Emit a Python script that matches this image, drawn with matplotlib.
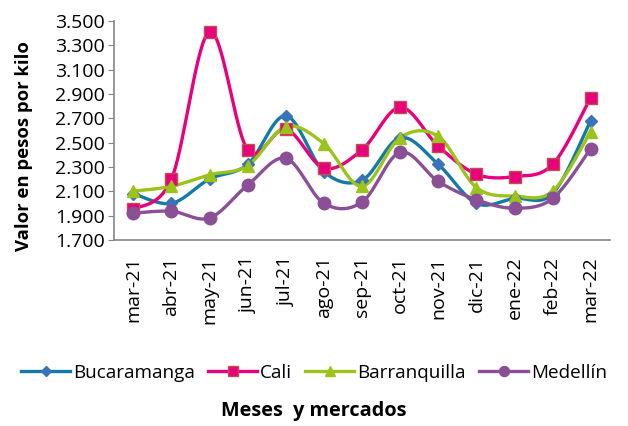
import numpy as np
import matplotlib
matplotlib.use("Agg")
import matplotlib.pyplot as plt
from matplotlib.ticker import FuncFormatter

plt.rcParams['font.family'] = ['Open Sans', 'DejaVu Sans']

# data
meses = ["mar-21", "abr-21", "may-21", "jun-21", "jul-21", "ago-21", "sep-21",
         "oct-21", "nov-21", "dic-21", "ene-22", "feb-22", "mar-22"]
bucaramanga = [2080, 2000, 2200, 2320, 2720, 2260, 2190, 2540, 2320, 2000, 2040, 2080, 2680]
cali = [1950, 2200, 3410, 2440, 2610, 2290, 2440, 2790, 2470, 2240, 2220, 2320, 2870]
barranquilla = [2100, 2140, 2235, 2310, 2630, 2490, 2140, 2540, 2550, 2130, 2060, 2100, 2590]
medellin = [1920, 1935, 1880, 2150, 2370, 2000, 2010, 2420, 2180, 2030, 1960, 2040, 2450]


def smooth(xs, ys, n=20):
    # catmull-rom style curve like excel's smoothed line
    xs = np.asarray(xs, float)
    ys = np.asarray(ys, float)
    px = np.concatenate([[xs[0]], xs, [xs[-1]]])
    py = np.concatenate([[ys[0]], ys, [ys[-1]]])
    outx, outy = [], []
    for i in range(1, len(px) - 2):
        p0 = np.array([px[i - 1], py[i - 1]])
        p1 = np.array([px[i], py[i]])
        p2 = np.array([px[i + 1], py[i + 1]])
        p3 = np.array([px[i + 2], py[i + 2]])
        c1 = p1 + (p2 - p0) / 6
        c2 = p2 - (p3 - p1) / 6
        t = np.linspace(0, 1, n)[:, None]
        pts = ((1 - t) ** 3) * p1 + 3 * ((1 - t) ** 2) * t * c1 + 3 * (1 - t) * t ** 2 * c2 + t ** 3 * p2
        outx.extend(pts[:, 0])
        outy.extend(pts[:, 1])
    return outx, outy


fig = plt.figure(figsize=(6.28, 4.26), dpi=100)
ax = fig.add_axes([0.182, 0.437, 0.789, 0.514])

x = np.arange(len(meses))
series = [
    ("Bucaramanga", bucaramanga, "#127AA6", "D", "#3A74B8", "#3A74B8", 6.5),
    ("Cali", cali, "#E8007D", "s", "#E8007D", "#C0504D", 9),
    ("Barranquilla", barranquilla, "#9BC31B", "^", "#9BC31B", "#9BC31B", 9),
    ("Medellín", medellin, "#8A4F95", "o", "#8A4F95", "#8A4F95", 9),
]
for name, vals, col, mk, mfc, mec, ms in series:
    sx, sy = smooth(x, vals)
    ax.plot(sx, sy, color=col, lw=2.4, zorder=2)
    ax.plot(x, vals, ls="none", marker=mk, ms=ms, mfc=mfc, mec=mec, mew=1, zorder=3)
    # legend proxy
    ax.plot([], [], color=col, lw=2.4, marker=mk, ms=ms * 0.8, mfc=mfc, mec=mec, label=name)

ax.set_xlim(-0.5, 12.5)
ax.set_ylim(1700, 3500)
ax.set_yticks(np.arange(1700, 3501, 200))
ax.yaxis.set_major_formatter(FuncFormatter(lambda v, p: f"{int(v):,}".replace(",", ".")))
ax.set_xticks(x)
ax.set_xticklabels(meses, rotation=90, fontsize=14)
ax.tick_params(axis='y', labelsize=14, length=4, color="#868686", pad=3)
ax.tick_params(axis='x', length=0, pad=12)
for s in ["top", "right"]:
    ax.spines[s].set_visible(False)
for s in ["left", "bottom"]:
    ax.spines[s].set_color("#868686")
    ax.spines[s].set_linewidth(1.2)

ax.set_ylabel("Valor en pesos por kilo", fontsize=13.3, fontweight="bold")
ax.yaxis.set_label_coords(-0.165, 0.43)

fig.legend(loc="center", bbox_to_anchor=(0.5, 0.125), ncol=4, frameon=False,
           fontsize=13.6, handlelength=2.6, columnspacing=0.7, handletextpad=0.15,
           borderpad=0.1, borderaxespad=0.1)
fig.text(0.5, 0.035, "Meses  y mercados", ha="center", va="center", fontsize=14.3, fontweight="bold")

fig.savefig("out.png", dpi=100)
